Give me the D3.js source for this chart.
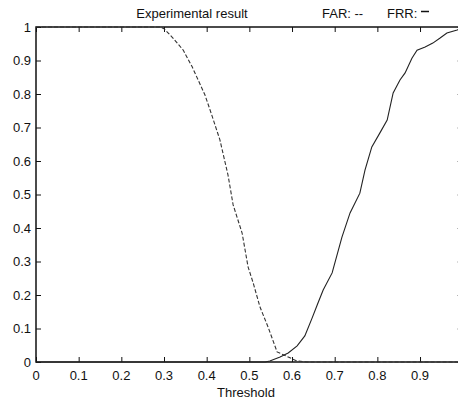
<!DOCTYPE html>
<html><head><meta charset="utf-8">
<script src="https://cdn.jsdelivr.net/npm/d3@7"></script>
<style>body{margin:0;background:#fff}svg{display:block}text{font-family:Arial,"Liberation Sans",sans-serif;fill:#111}</style>
</head><body><svg id="c" width="458" height="400"></svg>
<script>
const xTicks = [0,0.1,0.2,0.3,0.4,0.5,0.6,0.7,0.8,0.9,1];
const xTickLabels = ["0","0.1","0.2","0.3","0.4","0.5","0.6","0.7","0.8","0.9"];
const yTicks = [0,0.1,0.2,0.3,0.4,0.5,0.6,0.7,0.8,0.9,1];
const yTickLabels = ["0","0.1","0.2","0.3","0.4","0.5","0.6","0.7","0.8","0.9","1"];
const farX = [0,0.1,0.2,0.29,0.30,0.321,0.345,0.366,0.396,0.412,0.431,0.450,0.462,0.483,0.497,0.509,0.525,0.544,0.565,0.591,0.61,0.635,0.7,0.8,0.9,1.0];
const farY = [1,1,1,1,0.995,0.967,0.931,0.881,0.797,0.737,0.663,0.558,0.469,0.385,0.284,0.236,0.164,0.104,0.030,0.015,0.004,0,0,0,0,0];
const frrX = [0,0.2,0.4,0.537,0.548,0.572,0.591,0.612,0.630,0.647,0.659,0.673,0.694,0.717,0.736,0.759,0.771,0.787,0.806,0.823,0.837,0.853,0.865,0.881,0.893,0.912,0.930,0.947,0.963,0.987,1.0];
const frrY = [0,0,0,0,0.003,0.015,0.027,0.048,0.078,0.131,0.170,0.215,0.266,0.373,0.445,0.504,0.573,0.642,0.684,0.722,0.803,0.842,0.863,0.907,0.931,0.940,0.952,0.967,0.982,0.991,1.0];

const svg = d3.select("#c");
const x = d3.scaleLinear().domain([0,1]).range([36,462.7]);
const y = d3.scaleLinear().domain([0,1]).range([362,27]);

const g = svg.append("g");
const axB = d3.axisTop(x).tickValues(xTicks).tickSize(5).tickFormat("");
const axT = d3.axisBottom(x).tickValues(xTicks).tickSize(5).tickFormat("");
const axL = d3.axisRight(y).tickValues(yTicks).tickSize(5).tickFormat("");
const axR = d3.axisLeft(y).tickValues(yTicks).tickSize(5).tickFormat("");
[[axB,`translate(0,${y(0)})`],[axT,`translate(0,${y(1)})`],[axL,`translate(${x(0)},0)`],[axR,`translate(${x(1)},0)`]].forEach(([a,t])=>{
  const s = g.append("g").attr("transform",t).call(a);
  s.select(".domain").remove();
  s.selectAll(".tick line").attr("stroke","#111").attr("stroke-width",1);
});
g.append("rect").attr("x",x(0)).attr("y",y(1)).attr("width",x(1)-x(0)).attr("height",y(0)-y(1))
 .attr("fill","none").attr("stroke","#111").attr("stroke-width",1.5);

g.selectAll(".xl").data(xTickLabels).join("text").attr("x",(d,i)=>x(xTicks[i])).attr("y",380)
 .attr("text-anchor","middle").attr("font-size",13).text(d=>d);
g.selectAll(".yl").data(yTickLabels).join("text").attr("x",31).attr("y",(d,i)=>y(yTicks[i])+4.5)
 .attr("text-anchor","end").attr("font-size",13).text(d=>d);

const line = d3.line().x(d=>x(d[0])).y(d=>y(d[1]));
g.append("path").datum(farX.map((v,i)=>[v,farY[i]])).attr("d",line)
 .attr("fill","none").attr("stroke","#333").attr("stroke-width",1.1).attr("stroke-dasharray","4,2");
g.append("path").datum(frrX.map((v,i)=>[v,frrY[i]])).attr("d",line)
 .attr("fill","none").attr("stroke","#222").attr("stroke-width",1.1);

svg.append("text").attr("x",192).attr("y",18).attr("text-anchor","middle").attr("font-size",13).text("Experimental result");
svg.append("text").attr("x",246).attr("y",397).attr("text-anchor","middle").attr("font-size",13).text("Threshold");
svg.append("text").attr("x",322).attr("y",18).attr("font-size",13).text("FAR: --");
svg.append("text").attr("x",387).attr("y",18).attr("font-size",13).text("FRR:");
svg.append("line").attr("x1",421).attr("x2",429).attr("y1",11.5).attr("y2",11.5).attr("stroke","#111").attr("stroke-width",1.5);
</script></body></html>
